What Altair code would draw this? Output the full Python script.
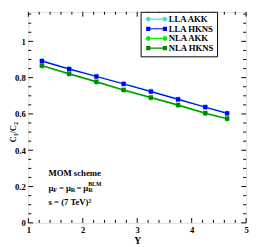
import altair as alt
import numpy as np
import pandas as pd

# ---------------- data ----------------
Y_VALUES = [1.25, 1.75, 2.25, 2.75, 3.25, 3.75, 4.25, 4.65]
LLA_AKK = [0.894, 0.850, 0.809, 0.768, 0.726, 0.683, 0.640, 0.606]
LLA_HKNS = [0.891, 0.847, 0.806, 0.765, 0.723, 0.680, 0.637, 0.603]
NLA_AKK = [0.864, 0.819, 0.775, 0.730, 0.688, 0.647, 0.602, 0.572]
NLA_HKNS = [0.867, 0.822, 0.778, 0.733, 0.691, 0.650, 0.605, 0.575]
SERIES = ["LLA AKK", "LLA HKNS", "NLA AKK", "NLA HKNS"]
KINDS = ["AKK", "HKNS", "AKK", "HKNS"]
COLORS = ["#40e0d0", "#0000ff", "#00ee00", "#008800"]
X_TICK_LABELS = [1, 2, 3, 4, 5]
Y_TICK_LABELS = [0, 0.2, 0.4, 0.6, 0.8, 1.0]

W, H = 225, 218
Y_TOP = 1.2 - 7 / 187.5   # top 7px of the frame lie above the page margin
FONT = "Liberation Serif"

rows = []
for name, kind, vals in zip(SERIES, KINDS, [LLA_AKK, LLA_HKNS, NLA_AKK, NLA_HKNS]):
    for xv, yv in zip(Y_VALUES, vals):
        rows.append({"Y": xv, "val": yv, "series": name, "kind": kind})
df = pd.DataFrame(rows)

xscale = alt.Scale(domain=[1, 5], nice=False, zero=False)
yscale = alt.Scale(domain=[0, Y_TOP], nice=False, zero=False)
cscale = alt.Scale(domain=SERIES, range=COLORS)

# legend glyph (line with a marker at each end), in pixels, scaled to units
SYM_SIZE = 64
U = (SYM_SIZE ** 0.5) / 2


def p(v):
    return round(v / U, 4)


def circ(cx, r):
    return (f"M{p(cx - r)},0A{p(r)},{p(r)},0,1,0,{p(cx + r)},0"
            f"A{p(r)},{p(r)},0,1,0,{p(cx - r)},0Z")


def sq(cx, h):
    return f"M{p(cx - h)},{p(-h)}H{p(cx + h)}V{p(h)}H{p(cx - h)}Z"


L0, L1 = -2.0, 20.0
bar = f"M{p(L0 + 4.6)},{p(-0.6)}H{p(L1 - 4.6)}V{p(0.6)}H{p(L0 + 4.6)}Z"
PATH_C = bar + circ(L0 + 2.4, 2.4) + circ(L1 - 2.4, 2.4)
PATH_S = bar + sq(L0 + 2.4, 2.2) + sq(L1 - 2.4, 2.2)
shape_scale = alt.Scale(domain=SERIES, range=[PATH_C, PATH_S, PATH_C, PATH_S])

x_axis = alt.Axis(values=X_TICK_LABELS, format="d", ticks=False, domain=False,
                  grid=False, labelFont=FONT, labelFontWeight="bold",
                  labelFontSize=9, labelPadding=3, labelFlush=False,
                  labelColor="black", title="Y", titleFont=FONT,
                  titleFontWeight="bold", titleFontSize=10, titlePadding=1,
                  titleColor="black")
y_axis = alt.Axis(values=Y_TICK_LABELS, format="~g", ticks=False, domain=False,
                  grid=False, labelFont=FONT, labelFontWeight="bold",
                  labelFontSize=9, labelPadding=3, labelFlush=False,
                  labelColor="black", title="C₃/C₂", titleFont=FONT,
                  titleFontWeight="bold", titleFontSize=9, titleX=-16,
                  titleY=124, titleAngle=270, titleAlign="center",
                  titleBaseline="middle", titleColor="black")

base = alt.Chart(df)

lines = base.mark_line(strokeWidth=1.2).encode(
    x=alt.X("Y:Q", scale=xscale, axis=x_axis),
    y=alt.Y("val:Q", scale=yscale, axis=y_axis),
    color=alt.Color("series:N", scale=cscale, legend=None),
    detail="series:N",
    order="Y:Q",
)

circles = base.transform_filter(alt.datum.kind == "AKK").mark_point(
    shape="circle", filled=True, size=26, opacity=1).encode(
    x=alt.X("Y:Q", scale=xscale, axis=None),
    y=alt.Y("val:Q", scale=yscale, axis=None),
    color=alt.Color("series:N", scale=cscale, legend=None),
)
squares = base.transform_filter(alt.datum.kind == "HKNS").mark_point(
    shape="square", filled=True, size=20, opacity=1).encode(
    x=alt.X("Y:Q", scale=xscale, axis=None),
    y=alt.Y("val:Q", scale=yscale, axis=None),
    color=alt.Color("series:N", scale=cscale, legend=None),
)

legend = alt.Legend(title=None, orient="none", legendX=116, legendY=0,
                    fillColor="white", strokeColor="black", padding=3,
                    labelFont=FONT, labelFontWeight="bold", labelFontSize=9,
                    labelColor="black", labelOffset=17, symbolSize=SYM_SIZE,
                    symbolOpacity=1, symbolStrokeWidth=0, rowPadding=0,
                    cornerRadius=0)
legend_layer = base.mark_point(filled=True, opacity=0, size=1).encode(
    x=alt.X("Y:Q", scale=xscale, axis=None),
    y=alt.Y("val:Q", scale=yscale, axis=None),
    color=alt.Color("series:N", scale=cscale, legend=legend),
    shape=alt.Shape("series:N", scale=shape_scale, legend=legend),
)

# inward ticks on all four sides
x_major = pd.DataFrame({"v": X_TICK_LABELS})
x_minor = pd.DataFrame({"v": [v for v in np.round(np.arange(1, 5.0001, 0.2), 3)
                              if abs(v - round(v)) > 1e-6]})
y_major = pd.DataFrame({"v": np.round(np.arange(0, Y_TOP, 0.2), 3)})
y_minor = pd.DataFrame({"v": [v for v in np.round(np.arange(0, Y_TOP, 0.05), 3)
                              if abs(v / 0.2 - round(v / 0.2)) > 1e-6]})


def xticks(d, length):
    bottom = alt.Chart(d).mark_rule(color="black", strokeWidth=1).encode(
        x=alt.X("v:Q", scale=xscale, axis=None),
        y=alt.value(H), y2=alt.value(H - length))
    top = alt.Chart(d).mark_rule(color="black", strokeWidth=1).encode(
        x=alt.X("v:Q", scale=xscale, axis=None),
        y=alt.value(0), y2=alt.value(length))
    return [bottom, top]


def yticks(d, length):
    left = alt.Chart(d).mark_rule(color="black", strokeWidth=1).encode(
        y=alt.Y("v:Q", scale=yscale, axis=None),
        x=alt.value(0), x2=alt.value(length))
    right = alt.Chart(d).mark_rule(color="black", strokeWidth=1).encode(
        y=alt.Y("v:Q", scale=yscale, axis=None),
        x=alt.value(W), x2=alt.value(W - length))
    return [left, right]


ticks = xticks(x_major, 5) + xticks(x_minor, 3) + yticks(y_major, 5) + yticks(y_minor, 3)

# annotations (placed in data coordinates)
ANN_X = 1.37
ann_layers = []


def txt(s, y, dx=0, dy=0, size=9, weight="bold"):
    d = pd.DataFrame({"x": [ANN_X], "y": [y], "t": [s]})
    return alt.Chart(d).mark_text(align="left", baseline="middle", font=FONT,
                                  fontSize=size, fontWeight=weight,
                                  color="black", dx=dx, dy=dy).encode(
        x=alt.X("x:Q", scale=xscale, axis=None),
        y=alt.Y("y:Q", scale=yscale, axis=None),
        text="t:N")


ann_layers.append(txt("MOM scheme", 0.272))
mu_y = 0.192
for s, dx, dy, size in [("μ", 0, 0, 9), ("F", 5, 2.5, 6.5), ("=", 11, 0, 9),
                        ("μ", 18, 0, 9), ("R", 23, 2.5, 6.5), ("=", 29, 0, 9),
                        ("μ", 36, 0, 9), ("R", 41, 2.5, 6.5), ("BLM", 41, -4, 6)]:
    ann_layers.append(txt(s, mu_y, dx, dy, size))
ann_layers.append(txt("s = (7 TeV)²", 0.112))

chart = alt.layer(
    *ticks, lines, circles, squares, legend_layer, *ann_layers
).resolve_axis(x="independent", y="independent").resolve_legend(
    color="independent", shape="independent"
).properties(
    width=W, height=H,
    autosize=alt.AutoSizeParams(type="none"),
    padding={"left": 21, "top": 0, "right": 4, "bottom": 21},
).configure_view(stroke="black", strokeWidth=1.2).configure(background="white")

chart.save("out.html", embed_options={"renderer": "svg", "actions": False})
